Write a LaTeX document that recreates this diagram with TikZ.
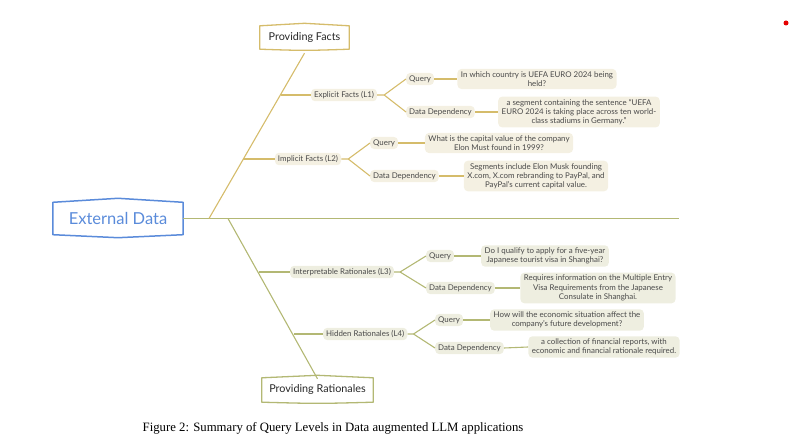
\documentclass[tikz,border=0pt]{standalone}
\usepackage{fontspec}
\setmainfont{Lato}
\newfontfamily\capfont{Liberation Serif}
\usetikzlibrary{calc}
\definecolor{gold}{HTML}{D5BC6B}
\definecolor{olive}{HTML}{B3B874}
\definecolor{fillu}{HTML}{F4F0E2}
\definecolor{filll}{HTML}{EEEEE0}
\definecolor{txt}{HTML}{4A4A4A}
\definecolor{blu}{HTML}{5A8BDA}
\tikzset{
  gline/.style={draw=gold, line width=1.1pt},
  oline/.style={draw=olive, line width=1.1pt},
  lab/.style={font=\fontsize{7.9}{9.2}\selectfont, text=txt, rounded corners=4pt, inner xsep=3pt, inner ysep=2.5pt},
  labu/.style={lab, fill=fillu},
  labl/.style={lab, fill=filll},
  boxu/.style={labu, align=center, inner xsep=3.5pt, inner ysep=2.5pt},
  boxl/.style={labl, align=center, inner xsep=3.5pt, inner ysep=2.5pt},
  headbox/.style={font=\fontsize{10.8}{12}\selectfont, text=black!85, minimum height=23pt, inner xsep=6pt},
}
\begin{document}
\begin{tikzpicture}[x=1pt,y=-1pt]
\useasboundingbox (0,0) rectangle (790,443);
\fill[red!90!black] (786,23) circle (2.5);

% root
\node[font=\fontsize{16.5}{18}\selectfont, text=blu, minimum width=130pt, minimum height=32pt] (ext) at (118,218.5) {External Data};
\draw[blu, line width=1.5pt, line join=round] (ext.south west) -- (ext.north west) -- ([yshift=4pt]ext.north) -- (ext.north east) -- (ext.south east) -- ([yshift=-3pt]ext.south) -- cycle;

% headings
\node[headbox, minimum width=89pt] (pf) at (304.5,37.5) {Providing Facts};
\draw[gold, line width=1.3pt, line join=round] (pf.south west) -- (pf.north west) -- ([yshift=2.5pt]pf.north) -- (pf.north east) -- (pf.south east) .. controls ([yshift=-1.5pt]pf.south) .. (pf.south west) -- cycle;
\node[headbox, minimum height=24pt, minimum width=111pt] (pr) at (317.5,390) {Providing Rationales};
\draw[olive, line width=1.3pt, line join=round] (pr.south west) -- (pr.north west) -- ([yshift=2.5pt]pr.north) -- (pr.north east) -- (pr.south east) .. controls ([yshift=-1.5pt]pr.south) .. (pr.south west) -- cycle;

% trunk
\coordinate (j1) at (209,218.5);
\coordinate (j2) at (228,218.5);
\coordinate (tend) at (679,218.5);
\draw[oline] (ext.east) -- (tend);
\draw[gline] (j1) -- ([yshift=-4pt]pf.south);
\draw[oline] (j2) -- ([yshift=-1pt]pr.north);

% level nodes
\node[labu] (l1) at (344,95) {Explicit Facts (L1)};
\node[labu] (l2) at (308,159) {Implicit Facts (L2)};
\node[labl, anchor=west] (l3) at (290,272) {Interpretable Rationales (L3)};
\node[labl, anchor=west] (l4) at (323,334) {Hidden Rationales (L4)};

\coordinate (b1) at (280.5,95);
\coordinate (b2) at (243,159);
\coordinate (b3) at (258.8,272);
\coordinate (b4) at (294,334);
\draw[gline] (b1) -- (l1.west);
\draw[gline] (b2) -- (l2.west);
\draw[oline] (b3) -- (l3.west);
\draw[oline] (b4) -- (l4.west);

% L1 children
\node[labu, anchor=west] (q1) at (406,79) {Query};
\node[labu, anchor=west] (d1) at (406,112) {Data Dependency};
\node[boxu] (q1t) at (537,79) {In which country is UEFA EURO 2024 being\\held?};
\node[boxu] (d1t) at (579,112) {a segment containing the sentence ``UEFA\\EURO 2024 is taking place across ten world-\\class stadiums in Germany.''};
\draw[gline, line join=round] (q1.west) -- ($(l1.east)+(7,0)$) coordinate (f1) -- (l1.east);
\draw[gline, line join=round] (d1.west) -- (f1);
\draw[gline] (q1.east) -- (q1t.west);
\draw[gline] (d1.east) -- (d1t.west);

% L2 children
\node[labu, anchor=west] (q2) at (370,143) {Query};
\node[labu, anchor=west] (d2) at (370,176) {Data Dependency};
\node[boxu] (q2t) at (499,143) {What is the capital value of the company\\Elon Must found in 1999?};
\node[boxu] (d2t) at (536,176) {Segments include Elon Musk founding\\X.com, X.com rebranding to PayPal, and\\PayPal's current capital value.};
\draw[gline, line join=round] (q2.west) -- ($(l2.east)+(7,0)$) coordinate (f2) -- (l2.east);
\draw[gline, line join=round] (d2.west) -- (f2);
\draw[gline] (q2.east) -- (q2t.west);
\draw[gline] (d2.east) -- (d2t.west);

% L3 children
\node[labl, anchor=west] (q3) at (426,256) {Query};
\node[labl, anchor=west] (d3) at (426,288) {Data Dependency};
\node[boxl] (q3t) at (545,256) {Do I qualify to apply for a five-year\\Japanese tourist visa in Shanghai?};
\node[boxl] (d3t) at (598,288) {Requires information on the Multiple Entry\\Visa Requirements from the Japanese\\Consulate in Shanghai.};
\draw[oline, line join=round] (q3.west) -- ($(l3.east)+(6,0)$) coordinate (f3) -- (l3.east);
\draw[oline, line join=round] (d3.west) -- (f3);
\draw[oline] (q3.east) -- (q3t.west);
\draw[oline] (d3.east) -- (d3t.west);

% L4 children
\node[labl, anchor=west] (q4) at (435,320) {Query};
\node[labl, anchor=west] (d4) at (435,348) {Data Dependency};
\node[boxl] (q4t) at (567,320) {How will the economic situation affect the\\company's future development?};
\node[boxl] (d4t) at (604,347) {a collection of financial reports, with\\economic and financial rationale required.};
\draw[oline, line join=round] (q4.west) -- ($(l4.east)+(6,0)$) coordinate (f4) -- (l4.east);
\draw[oline, line join=round] (d4.west) -- (f4);
\draw[oline] (q4.east) -- (q4t.west);
\draw[oline] (d4.east) -- (d4t.west);

% caption
\node[font=\capfont\fontsize{12.75}{14}\selectfont] (cap) at (333,428.5) {Figure 2: Summary of Query Levels in Data augmented LLM applications};
\end{tikzpicture}
\end{document}
